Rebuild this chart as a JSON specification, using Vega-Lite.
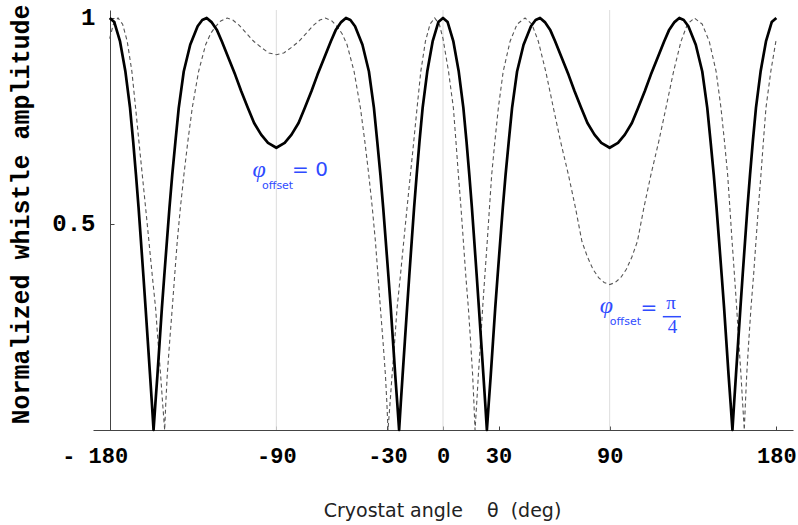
{
  "$schema": "https://vega.github.io/schema/vega-lite/v6.json",
  "width": 700,
  "height": 420,
  "autosize": {"type": "none"},
  "padding": {"left": 93, "top": 10, "right": 5, "bottom": 95},
  "background": "white",
  "config": {"view": {"stroke": null}},
  "datasets": {
    "grid": [{"t": -90}, {"t": 0}, {"t": 90}],
    "solid": [
      {"t":-180,"v":1},{"t":-177.5,"v":0.99},{"t":-174.4,"v":0.943},{"t":-171.5,"v":0.87},{"t":-169,"v":0.782},{"t":-167.3,"v":0.7},{"t":-165.8,"v":0.62},{"t":-164.4,"v":0.54},{"t":-163.1,"v":0.458},{"t":-161.8,"v":0.375},{"t":-160.6,"v":0.296},{"t":-159.4,"v":0.215},{"t":-158.2,"v":0.134},{"t":-157.2,"v":0.065},{"t":-156.3,"v":0},{"t":-155.3,"v":0.065},{"t":-154.2,"v":0.134},{"t":-153,"v":0.215},{"t":-151.8,"v":0.296},{"t":-150.5,"v":0.375},{"t":-149.1,"v":0.458},{"t":-147.7,"v":0.54},{"t":-146.2,"v":0.62},{"t":-144.5,"v":0.7},{"t":-142.7,"v":0.782},{"t":-140,"v":0.87},{"t":-136.5,"v":0.935},{"t":-132.5,"v":0.98},{"t":-130,"v":0.995},{"t":-127.6,"v":1},{"t":-125,"v":0.99},{"t":-122,"v":0.97},{"t":-119.4,"v":0.943},{"t":-116,"v":0.905},{"t":-112.2,"v":0.862},{"t":-109,"v":0.823},{"t":-105.4,"v":0.782},{"t":-102,"v":0.745},{"t":-98.2,"v":0.717},{"t":-94.5,"v":0.697},{"t":-90,"v":0.685},
      {"t":-85.5,"v":0.697},{"t":-81.8,"v":0.717},{"t":-78,"v":0.745},{"t":-74.6,"v":0.782},{"t":-71,"v":0.823},{"t":-67.8,"v":0.862},{"t":-64,"v":0.905},{"t":-60.6,"v":0.943},{"t":-58,"v":0.97},{"t":-55,"v":0.99},{"t":-52.4,"v":1},{"t":-50,"v":0.995},{"t":-47.5,"v":0.98},{"t":-43.5,"v":0.935},{"t":-40,"v":0.87},{"t":-37.3,"v":0.782},{"t":-35.5,"v":0.7},{"t":-33.8,"v":0.62},{"t":-32.3,"v":0.54},{"t":-30.9,"v":0.458},{"t":-29.5,"v":0.375},{"t":-28.2,"v":0.296},{"t":-27,"v":0.215},{"t":-25.8,"v":0.134},{"t":-24.7,"v":0.065},{"t":-23.7,"v":0},{"t":-22.8,"v":0.065},{"t":-21.8,"v":0.134},{"t":-20.6,"v":0.215},{"t":-19.4,"v":0.296},{"t":-18.2,"v":0.375},{"t":-16.9,"v":0.458},{"t":-15.6,"v":0.54},{"t":-14.2,"v":0.62},{"t":-12.7,"v":0.7},{"t":-11,"v":0.782},{"t":-8.5,"v":0.87},{"t":-5.6,"v":0.943},{"t":-2.5,"v":0.99},{"t":0,"v":1},
      {"t":2.5,"v":0.99},{"t":5.6,"v":0.943},{"t":8.5,"v":0.87},{"t":11,"v":0.782},{"t":12.7,"v":0.7},{"t":14.2,"v":0.62},{"t":15.6,"v":0.54},{"t":16.9,"v":0.458},{"t":18.2,"v":0.375},{"t":19.4,"v":0.296},{"t":20.6,"v":0.215},{"t":21.8,"v":0.134},{"t":22.8,"v":0.065},{"t":23.7,"v":0},{"t":24.7,"v":0.065},{"t":25.8,"v":0.134},{"t":27,"v":0.215},{"t":28.2,"v":0.296},{"t":29.5,"v":0.375},{"t":30.9,"v":0.458},{"t":32.3,"v":0.54},{"t":33.8,"v":0.62},{"t":35.5,"v":0.7},{"t":37.3,"v":0.782},{"t":40,"v":0.87},{"t":43.5,"v":0.935},{"t":47.5,"v":0.98},{"t":50,"v":0.995},{"t":52.4,"v":1},{"t":55,"v":0.99},{"t":58,"v":0.97},{"t":60.6,"v":0.943},{"t":64,"v":0.905},{"t":67.8,"v":0.862},{"t":71,"v":0.823},{"t":74.6,"v":0.782},{"t":78,"v":0.745},{"t":81.8,"v":0.717},{"t":85.5,"v":0.697},{"t":90,"v":0.685},
      {"t":94.5,"v":0.697},{"t":98.2,"v":0.717},{"t":102,"v":0.745},{"t":105.4,"v":0.782},{"t":109,"v":0.823},{"t":112.2,"v":0.862},{"t":116,"v":0.905},{"t":119.4,"v":0.943},{"t":122,"v":0.97},{"t":125,"v":0.99},{"t":127.6,"v":1},{"t":130,"v":0.995},{"t":132.5,"v":0.98},{"t":136.5,"v":0.935},{"t":140,"v":0.87},{"t":142.7,"v":0.782},{"t":144.5,"v":0.7},{"t":146.2,"v":0.62},{"t":147.7,"v":0.54},{"t":149.1,"v":0.458},{"t":150.5,"v":0.375},{"t":151.8,"v":0.296},{"t":153,"v":0.215},{"t":154.2,"v":0.134},{"t":155.3,"v":0.065},{"t":156.3,"v":0},{"t":157.2,"v":0.065},{"t":158.2,"v":0.134},{"t":159.4,"v":0.215},{"t":160.6,"v":0.296},{"t":161.8,"v":0.375},{"t":163.1,"v":0.458},{"t":164.4,"v":0.54},{"t":165.8,"v":0.62},{"t":167.3,"v":0.7},{"t":169,"v":0.782},{"t":171.5,"v":0.87},{"t":174.4,"v":0.943},{"t":177.5,"v":0.99},{"t":180,"v":1}
    ],
    "dashed": [
      {"t":-180,"v":0.95},{"t":-178,"v":0.985},{"t":-175.5,"v":1},{"t":-173,"v":0.985},{"t":-170.5,"v":0.943},{"t":-168,"v":0.87},{"t":-166,"v":0.782},{"t":-164.2,"v":0.7},{"t":-162.4,"v":0.62},{"t":-160.6,"v":0.54},{"t":-158.8,"v":0.458},{"t":-157,"v":0.375},{"t":-155.2,"v":0.296},{"t":-153.9,"v":0.215},{"t":-152.5,"v":0.134},{"t":-151.4,"v":0.065},{"t":-150.3,"v":0},{"t":-149.7,"v":0.065},{"t":-148.9,"v":0.134},{"t":-147.6,"v":0.215},{"t":-146.2,"v":0.296},{"t":-144.9,"v":0.375},{"t":-143.5,"v":0.458},{"t":-141.8,"v":0.54},{"t":-139.9,"v":0.62},{"t":-137.8,"v":0.7},{"t":-135.4,"v":0.782},{"t":-132,"v":0.87},{"t":-128.2,"v":0.935},{"t":-125.5,"v":0.962},{"t":-123,"v":0.978},{"t":-120,"v":0.993},{"t":-116.5,"v":1},{"t":-113.5,"v":0.995},{"t":-110,"v":0.982},{"t":-106,"v":0.962},{"t":-102.1,"v":0.943},{"t":-98,"v":0.928},{"t":-94,"v":0.915},{"t":-90,"v":0.911},
      {"t":-86,"v":0.915},{"t":-82,"v":0.928},{"t":-77.9,"v":0.943},{"t":-74,"v":0.962},{"t":-70,"v":0.982},{"t":-66.5,"v":0.995},{"t":-63.5,"v":1},{"t":-60,"v":0.993},{"t":-57,"v":0.978},{"t":-54.5,"v":0.962},{"t":-51.8,"v":0.935},{"t":-48,"v":0.87},{"t":-44.6,"v":0.782},{"t":-42.2,"v":0.7},{"t":-40.1,"v":0.62},{"t":-38.2,"v":0.54},{"t":-36.5,"v":0.458},{"t":-35.1,"v":0.375},{"t":-33.8,"v":0.296},{"t":-32.4,"v":0.215},{"t":-31.1,"v":0.134},{"t":-30.3,"v":0.065},{"t":-29.7,"v":0},{"t":-28.6,"v":0.065},{"t":-27.5,"v":0.134},{"t":-26.1,"v":0.215},{"t":-24.8,"v":0.296},{"t":-23,"v":0.375},{"t":-21.2,"v":0.458},{"t":-19.4,"v":0.54},{"t":-17.6,"v":0.62},{"t":-15.8,"v":0.7},{"t":-14,"v":0.782},{"t":-12,"v":0.87},{"t":-9.5,"v":0.943},{"t":-7,"v":0.985},{"t":-4.5,"v":1},{"t":-2,"v":0.985},{"t":0,"v":0.95},
      {"t":3,"v":0.87},{"t":5.6,"v":0.782},{"t":7,"v":0.7},{"t":8.3,"v":0.62},{"t":9.7,"v":0.54},{"t":11,"v":0.458},{"t":12.3,"v":0.375},{"t":13.7,"v":0.296},{"t":14.9,"v":0.215},{"t":16,"v":0.134},{"t":16.7,"v":0.065},{"t":17.3,"v":0},{"t":18.2,"v":0.065},{"t":19.1,"v":0.134},{"t":20.3,"v":0.215},{"t":21.4,"v":0.296},{"t":22.6,"v":0.375},{"t":23.9,"v":0.458},{"t":25.1,"v":0.54},{"t":26.3,"v":0.62},{"t":28,"v":0.7},{"t":29.9,"v":0.782},{"t":32.5,"v":0.87},{"t":36.2,"v":0.943},{"t":40,"v":0.985},{"t":44.3,"v":1},{"t":48,"v":0.985},{"t":51.5,"v":0.943},{"t":55.5,"v":0.87},{"t":59.6,"v":0.782},{"t":63.5,"v":0.7},{"t":67.7,"v":0.62},{"t":71.5,"v":0.54},{"t":75,"v":0.458},{"t":78,"v":0.42},{"t":81,"v":0.39},{"t":84,"v":0.37},{"t":87,"v":0.358},{"t":90,"v":0.353},
      {"t":93,"v":0.358},{"t":96,"v":0.37},{"t":99,"v":0.39},{"t":102,"v":0.42},{"t":105,"v":0.458},{"t":108.5,"v":0.54},{"t":112.3,"v":0.62},{"t":116.5,"v":0.7},{"t":120.4,"v":0.782},{"t":124.5,"v":0.87},{"t":128.5,"v":0.943},{"t":132,"v":0.985},{"t":135.7,"v":1},{"t":140,"v":0.985},{"t":143.8,"v":0.943},{"t":147.5,"v":0.87},{"t":150.1,"v":0.782},{"t":152,"v":0.7},{"t":153.7,"v":0.62},{"t":154.9,"v":0.54},{"t":156.1,"v":0.458},{"t":157.4,"v":0.375},{"t":158.6,"v":0.296},{"t":159.7,"v":0.215},{"t":160.9,"v":0.134},{"t":161.8,"v":0.065},{"t":162.7,"v":0},{"t":163.3,"v":0.065},{"t":164,"v":0.134},{"t":165.1,"v":0.215},{"t":166.3,"v":0.296},{"t":167.7,"v":0.375},{"t":169,"v":0.458},{"t":170.3,"v":0.54},{"t":171.7,"v":0.62},{"t":173,"v":0.7},{"t":174.4,"v":0.782},{"t":177,"v":0.87},{"t":180,"v":0.95}
    ],
    "phi": [{"t": -99.3, "v": 0.631, "s": "φ"}, {"t": 88.2, "v": 0.3, "s": "φ"}],
    "sub": [{"t": -89.3, "v": 0.592, "s": "offset"}, {"t": 98.5, "v": 0.261, "s": "offset"}],
    "eq": [{"t": -71.8, "v": 0.632, "s": "= 0"}, {"t": 111.2, "v": 0.297, "s": "="}],
    "frac": [{"t": 123.1, "v": 0.309, "s": "π"}, {"t": 123.9, "v": 0.25, "s": "4"}],
    "bar": [{"t": 118.7, "t2": 128.5, "v": 0.275}]
  },
  "encoding": {
    "x": {
      "field": "t", "type": "quantitative",
      "scale": {"domain": [-189, 189], "nice": false, "zero": false},
      "axis": {
        "title": "Cryostat angle\u00a0\u00a0\u00a0 θ\u00a0 (deg)",
        "values": [-180, -90, -30, 0, 30, 90, 180],
        "grid": false,
        "domainColor": "#444444", "domainWidth": 1,
        "tickSize": -4, "tickColor": "#444444",
        "labelExpr": "datum.value == -180 ? '- 180' : (datum.value < 0 ? '-' + abs(datum.value) : '' + datum.value)",
        "labelFont": "Liberation Mono", "labelFontWeight": "bold", "labelFontSize": 22, "labelColor": "black",
        "labelBaseline": "alphabetic", "labelPadding": 36, "labelFlush": false, "labelOverlap": false,
        "labelOffset": {"condition": {"test": "datum.value == -180", "value": -15}, "value": 0},
        "titleFont": "DejaVu Sans", "titleFontSize": 19, "titleFontWeight": "normal", "titleColor": "#222222",
        "titleBaseline": "alphabetic", "titleAlign": "center", "titleX": 349, "titleY": 86
      }
    }
  },
  "layer": [
    {
      "data": {"name": "grid"},
      "mark": {"type": "rule", "color": "#dddddd", "strokeWidth": 1},
      "encoding": {}
    },
    {
      "data": {"name": "dashed"},
      "mark": {"type": "line", "color": "#555555", "strokeWidth": 1.1, "strokeDash": [4, 3]},
      "encoding": {
        "y": {
          "field": "v", "type": "quantitative",
          "scale": {"domain": [0, 1.0194], "nice": false, "zero": false},
          "axis": {
            "title": "Normalized whistle amplitude",
            "values": [0.5, 1], "format": ".1~f",
            "offset": -17, "grid": false,
            "domainColor": "#444444", "domainWidth": 1,
            "tickSize": -4, "tickColor": "#444444",
            "labelFont": "Liberation Mono", "labelFontWeight": "bold", "labelFontSize": 24, "labelColor": "black",
            "labelPadding": 19, "labelBaseline": "middle",
            "titleFont": "Liberation Mono", "titleFontWeight": "bold", "titleFontSize": 25, "titleColor": "black",
            "titleAngle": -90, "titleBaseline": "alphabetic", "titleAlign": "center", "titleX": -82, "titleY": 204
          }
        }
      }
    },
    {
      "data": {"name": "solid"},
      "mark": {"type": "line", "color": "black", "strokeWidth": 2.7, "strokeJoin": "round"},
      "encoding": {
        "y": {"field": "v", "type": "quantitative"}
      }
    },
    {
      "data": {"name": "phi"},
      "mark": {"type": "text", "font": "Liberation Serif", "fontStyle": "italic", "fontSize": 24, "color": "#2f4bff", "align": "center", "baseline": "middle"},
      "encoding": {
        "y": {"field": "v", "type": "quantitative"},
        "text": {"field": "s"}
      }
    },
    {
      "data": {"name": "sub"},
      "mark": {"type": "text", "font": "DejaVu Sans", "fontSize": 11, "color": "#2f4bff", "align": "center", "baseline": "middle"},
      "encoding": {
        "y": {"field": "v", "type": "quantitative"},
        "text": {"field": "s"}
      }
    },
    {
      "data": {"name": "eq"},
      "mark": {"type": "text", "font": "DejaVu Sans", "fontSize": 20, "color": "#2f4bff", "align": "center", "baseline": "middle"},
      "encoding": {
        "y": {"field": "v", "type": "quantitative"},
        "text": {"field": "s"}
      }
    },
    {
      "data": {"name": "frac"},
      "mark": {"type": "text", "font": "Liberation Serif", "fontSize": 19, "color": "#2f4bff", "align": "center", "baseline": "middle"},
      "encoding": {
        "y": {"field": "v", "type": "quantitative"},
        "text": {"field": "s"}
      }
    },
    {
      "data": {"name": "bar"},
      "mark": {"type": "rule", "color": "#2f4bff", "strokeWidth": 1.5},
      "encoding": {
        "x2": {"field": "t2"},
        "y": {"field": "v", "type": "quantitative"}
      }
    }
  ]
}
